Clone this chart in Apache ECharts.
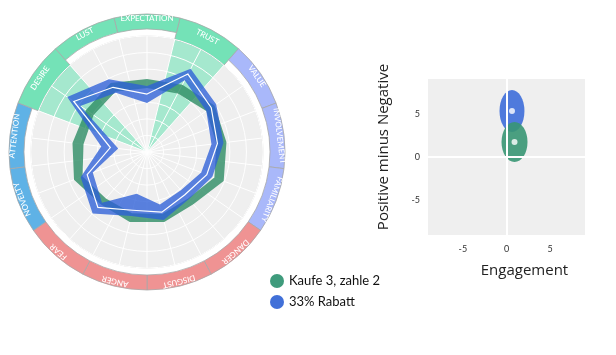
<!DOCTYPE html>
<html><head><meta charset="utf-8">
<script src="https://cdn.jsdelivr.net/npm/echarts@6/dist/echarts.min.js"></script>
<style>html,body{margin:0;padding:0;background:#fff}#c{width:616px;height:355px}</style>
</head><body><div id="c"></div>
<script>
// ---------- data ----------
const categories = ['EXPECTATION','TRUST','VALUE','INVOLVEMENT','FAMILIARITY','DANGER','DISGUST','ANGER','FEAR','NOVELTY','ATTENTION','DESIRE','LUST'];
const categoryGroups = ['pos','pos','cog','cog','cog','neg','neg','neg','neg','att','att','pos','pos'];
const highlighted = ['TRUST','DESIRE'];
const seriesNames = ['Kaufe 3, zahle 2','33% Rabatt'];
// radar bands (scale 0..7)
const kaufeLow  = [3.86,3.98,4.35,4.22,4.35,3.74,3.86,3.80,3.74,4.16,3.86,3.92,4.10];
const kaufeHigh = [4.41,4.59,4.95,4.83,4.95,4.22,4.35,4.35,4.22,4.71,4.53,4.47,4.71];
const rabattLow  = [2.96,4.89,4.35,3.92,3.50,3.08,3.26,2.60,4.10,3.50,1.75,4.89,4.04];
const rabattHigh = [3.98,5.67,5.07,4.65,4.22,3.80,4.22,3.98,4.95,4.28,2.78,5.85,4.95];
const rabattMean = [3.50,5.31,4.71,4.28,3.86,3.44,3.74,3.62,4.47,3.86,2.23,5.37,4.41];
// scatter with spread ellipses
const engagement       = [0.92, 0.63];
const engagementSpread = [1.49, 1.43];
const posMinusNeg       = [1.73, 5.30];
const posMinusNegSpread = [2.31, 2.42];
const tickValues = [-5, 0, 5];
const zeroLines = [0];

// ---------- styles ----------
const groupColors = {pos:'#74e2b7', cog:'#a9b8fa', neg:'#ef9393', att:'#5fb2e6'};
const solidColors = ['#3f9b7c', '#4170d8'];
const bandFills = ['rgba(45,140,100,0.8)', 'rgba(45,95,215,0.78)'];
const ellipseFills = ['rgba(55,150,115,0.9)', 'rgba(65,112,218,0.92)'];
const CX = 147, CY = 152, N = categories.length;
const START = 90 + 180 / N;

function bandSeries(idx, low, high, mean, z) {
  const data = categories.map((c, i) => [i, low[i], high[i], mean ? mean[i] : 0]);
  return {
    type: 'custom', name: seriesNames[idx], coordinateSystem: 'polar', polarIndex: 0,
    z: z, silent: true, itemStyle: {color: solidColors[idx]},
    encode: {angle: 0, radius: 2},
    data: data,
    renderItem: function (params, api) {
      if (params.dataIndexInside !== 0) return null;
      const n = params.dataInsideLength;
      const outer = [], inner = [], mid = [];
      for (let k = 0; k < n; k++) {
        const a = api.value(0, k);
        outer.push(api.coord([api.value(2, k), a]));
        inner.push(api.coord([api.value(1, k), a]));
        if (mean) mid.push(api.coord([api.value(3, k), a]));
      }
      const pts = outer.concat([outer[0], inner[0]], inner.slice(1).reverse(), [inner[0]]);
      const children = [{type: 'polygon', shape: {points: pts}, style: {fill: bandFills[idx], stroke: null}}];
      if (mean) children.push({type: 'polygon', shape: {points: mid}, style: {fill: 'none', stroke: '#ffffff', lineWidth: 1.2}});
      return {type: 'group', children: children};
    }
  };
}

function ellipseSeries(idx) {
  return {
    type: 'custom', name: seriesNames[idx], xAxisIndex: 0, yAxisIndex: 0, z: 3 + (idx === 0 ? 1 : 0),
    silent: true, itemStyle: {color: solidColors[idx]},
    data: [[engagement[idx], posMinusNeg[idx], engagementSpread[idx], posMinusNegSpread[idx]]],
    renderItem: function (params, api) {
      const c = api.coord([api.value(0), api.value(1)]);
      const s = api.size([api.value(2), api.value(3)]);
      return {type: 'ellipse', shape: {cx: c[0], cy: c[1], rx: s[0], ry: s[1]}, style: {fill: ellipseFills[idx]}};
    }
  };
}

const isHi = c => highlighted.indexOf(c) >= 0;
const labelRot = i => -i * 360 / N;
const transparentItem = {color: 'rgba(0,0,0,0)', borderWidth: 0};
const ringLabel = {show: true, position: 'inside', color: '#fff', fontSize: 8, fontWeight: 500, fontFamily: 'Lato'};

const option = {
  animation: false,
  backgroundColor: '#ffffff',
  polar: {center: [CX, CY], radius: 116},
  angleAxis: {
    type: 'value', min: 0, max: N, interval: 0.5, startAngle: 90, clockwise: true, z: 2,
    axisLine: {show: false}, axisTick: {show: false}, axisLabel: {show: false},
    splitLine: {show: true, lineStyle: {color: '#ffffff', width: 1}}
  },
  radiusAxis: {
    type: 'value', min: 0, max: 7, interval: 1, z: 2,
    axisLine: {show: false}, axisTick: {show: false}, axisLabel: {show: false},
    splitLine: {show: true, lineStyle: {color: '#ffffff', width: 1}}
  },
  grid: {left: 428, top: 79, width: 157, height: 156, show: true, backgroundColor: '#efefef', borderWidth: 0},
  xAxis: {
    type: 'value', min: -9, max: 9,
    axisLine: {show: false}, axisTick: {show: false}, splitLine: {show: false},
    axisLabel: {customValues: tickValues, fontSize: 9, color: '#333', margin: 10, fontFamily: 'Lato'},
    name: 'Engagement', nameLocation: 'middle', nameGap: 28,
    nameTextStyle: {fontSize: 15, color: '#222', fontFamily: 'Open Sans', padding: [0, 0, 0, 36]}
  },
  yAxis: {
    type: 'value', min: -9, max: 9,
    axisLine: {show: false}, axisTick: {show: false}, splitLine: {show: false},
    axisLabel: {customValues: tickValues, fontSize: 9, color: '#333', margin: 8, fontFamily: 'Lato'},
    name: 'Positive minus Negative', nameLocation: 'middle', nameGap: 37,
    nameTextStyle: {fontSize: 15, color: '#222', fontFamily: 'Open Sans', padding: [0, 0, 0, 20]}
  },
  legend: {
    data: seriesNames, orient: 'vertical', left: 265, top: 269, icon: 'circle', padding: 5,
    itemWidth: 14, itemHeight: 14, itemGap: 7, selectedMode: false,
    textStyle: {fontSize: 13, color: '#111', fontFamily: 'Lato'}
  },
  series: [
    // grey disk
    {type: 'pie', center: [CX, CY], radius: [0, 116], silent: true, z: 0, label: {show: false},
     data: [{value: 1, name: 'disk', itemStyle: {color: '#efefef', borderColor: '#dcdcdc', borderWidth: 1}}]},
    // light wedges
    {type: 'pie', center: [CX, CY], radius: [0, 116], startAngle: START, silent: true, z: 1, label: {show: false},
     data: categories.map((c, i) => ({name: c, value: 1,
       itemStyle: isHi(c) ? {color: 'rgba(115,226,183,0.6)', borderWidth: 0} : transparentItem}))},
    // highlighted outer blocks
    {type: 'pie', center: [CX, CY], radius: [116, 138], startAngle: START, silent: true, z: 1,
     label: ringLabel, labelLine: {show: false},
     data: categories.map((c, i) => ({name: c, value: 1,
       itemStyle: isHi(c) ? {color: groupColors[categoryGroups[i]], borderColor: '#a8a8a8', borderWidth: 0.8} : transparentItem,
       label: {show: isHi(c), rotate: labelRot(i)}}))},
    // ring
    {type: 'pie', center: [CX, CY], radius: [123, 138], startAngle: START, silent: true, z: 1,
     label: ringLabel, labelLine: {show: false},
     data: categories.map((c, i) => ({name: c, value: 1,
       itemStyle: !isHi(c) ? {color: groupColors[categoryGroups[i]], borderColor: '#a8a8a8', borderWidth: 0.8} : transparentItem,
       label: {show: !isHi(c), rotate: labelRot(i)}}))},
    bandSeries(0, kaufeLow, kaufeHigh, null, 3),
    bandSeries(1, rabattLow, rabattHigh, rabattMean, 4),
    // zero lines
    {type: 'line', name: 'zero', data: [], xAxisIndex: 0, yAxisIndex: 0, z: 2, silent: true,
     markLine: {silent: true, symbol: 'none', label: {show: false}, animation: false,
       lineStyle: {color: '#ffffff', width: 2, type: 'solid'},
       data: zeroLines.map(v => ({xAxis: v})).concat(zeroLines.map(v => ({yAxis: v})))}},
    ellipseSeries(1),
    ellipseSeries(0),
    {type: 'scatter', name: 'centers', xAxisIndex: 0, yAxisIndex: 0, z: 6, silent: true,
     symbolSize: 6, itemStyle: {color: '#ffffff'},
     data: engagement.map((e, i) => [e, posMinusNeg[i]])}
  ]
};
echarts.init(document.getElementById('c')).setOption(option);
</script></body></html>
